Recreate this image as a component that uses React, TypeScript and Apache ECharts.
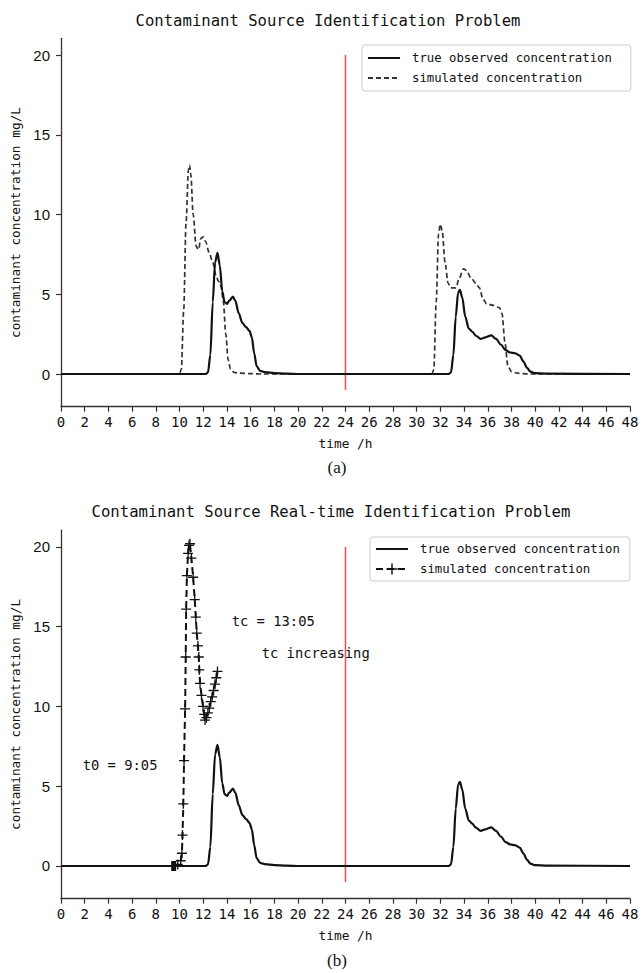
import React, { useEffect, useRef } from "react";
import * as echarts from "echarts";

// ---- data ----
const trueT = [0, 12.2, 12.4, 12.6, 12.8, 13.0, 13.2, 13.4, 13.6, 13.8, 14.0, 14.2, 14.5, 14.7, 15.0, 15.3, 15.6, 15.9, 16.1, 16.3, 16.5, 16.8, 17.2, 18.0, 19.0, 20.0,
  32.7, 32.9, 33.1, 33.3, 33.5, 33.65, 33.85, 34.1, 34.4, 34.7, 35.0, 35.4, 35.8, 36.3, 36.7, 37.1, 37.5, 37.9, 38.3, 38.7, 39.0, 39.3, 39.6, 40.0, 41.0, 48.0];
const trueV = [0, 0, 0.1, 1.2, 4.5, 7.0, 7.6, 6.8, 5.2, 4.5, 4.4, 4.6, 4.85, 4.6, 3.8, 3.2, 2.95, 2.7, 2.3, 1.3, 0.5, 0.2, 0.12, 0.06, 0.02, 0,
  0, 0.1, 1.2, 3.6, 5.1, 5.27, 4.8, 3.6, 2.85, 2.65, 2.4, 2.2, 2.3, 2.42, 2.2, 1.85, 1.5, 1.35, 1.3, 1.15, 0.8, 0.4, 0.15, 0.05, 0.02, 0];

const simAT = [0, 10.0, 10.15, 10.35, 10.55, 10.75, 10.85, 10.95, 11.15, 11.4, 11.6, 11.8, 12.0, 12.2, 12.5, 12.8, 13.1, 13.3, 13.5, 13.7, 13.9, 14.1, 14.3, 14.6, 15.0, 16.0, 17.0,
  31.3, 31.45, 31.65, 31.85, 32.0, 32.15, 32.4, 32.65, 32.9, 33.3, 33.6, 33.95, 34.2, 34.6, 35.0, 35.3, 35.6, 35.9, 36.5, 37.0, 37.2, 37.45, 37.7, 38.0, 38.5, 39.5, 48];
const simAV = [0, 0, 0.3, 4, 9.5, 12.8, 13.1, 12.5, 10, 8.0, 7.8, 8.5, 8.6, 8.3, 7.6, 7.0, 6.1, 5.8, 5.5, 4.5, 2.5, 0.9, 0.3, 0.1, 0.05, 0.02, 0,
  0, 0.3, 4.5, 8.8, 9.4, 9.0, 7.0, 5.7, 5.4, 5.4, 6.0, 6.6, 6.5, 6.0, 5.7, 5.4, 4.7, 4.4, 4.3, 4.15, 3.8, 2.0, 0.5, 0.15, 0.05, 0, 0];

const simBT = [9.36, 9.39, 9.42, 9.45, 9.48, 9.51, 9.54, 9.57, 9.6, 9.63, 9.66, 9.85, 10.1, 10.2, 10.25, 10.32, 10.38, 10.47, 10.52, 10.56, 10.62, 10.72, 10.8, 10.88,
  11.0, 11.15, 11.28, 11.37, 11.45, 11.55, 11.62, 11.67, 11.73, 11.85, 11.98, 12.08, 12.15,
  12.27, 12.39, 12.51, 12.63, 12.75, 12.87, 12.99, 13.1, 13.2];
const simBV = [0, 0, 0, 0, 0, 0, 0, 0, 0, 0, 0, 0.1, 0.33, 0.8, 1.94, 3.9, 6.6, 9.85, 13.1, 16.1, 18.2, 19.6, 20.1, 20.2,
  19.3, 18.1, 16.7, 15.6, 14.6, 13.8, 13.1, 12.3, 11.45, 10.7, 10.0, 9.5, 9.15,
  9.3, 9.6, 9.9, 10.3, 10.6, 11.0, 11.4, 11.8, 12.2];

const redT = [24, 24];
const redV = [-1, 20];
const yTickValues = [0, 5, 10, 15, 20];
const seriesNames = ["true observed concentration", "simulated concentration"];

const MONO = "'DejaVu Sans Mono', 'Liberation Mono', monospace";
const CROSS = "path://M-0.13,-1L0.13,-1L0.13,-0.13L1,-0.13L1,0.13L0.13,0.13L0.13,1L-0.13,1L-0.13,0.13L-1,0.13L-1,-0.13L-0.13,-0.13Z";

const zip = (a: number[], b: number[]) => a.map((t, i) => [t, b[i]]);

function axes(gridTop: number, gridBottom: number) {
  return {
    grid: { left: 61, right: 13, top: gridTop, bottom: gridBottom, outerBoundsMode: "none", containLabel: false },
    xAxis: {
      type: "value", min: 0, max: 48, interval: 2,
      axisLine: { show: true, onZero: false, lineStyle: { color: "#333", width: 1.3 } },
      axisTick: { show: true, length: 5, lineStyle: { color: "#333", width: 1.2 } },
      axisLabel: { fontFamily: MONO, fontSize: 14, color: "#111", margin: 8 },
      splitLine: { show: false },
      name: "time /h", nameLocation: "middle", nameGap: 30,
      nameTextStyle: { fontFamily: MONO, fontSize: 12.8, color: "#111" },
    },
    yAxis: {
      type: "value", min: -2.05, max: 21.05,
      axisLine: { show: true, onZero: false, lineStyle: { color: "#333", width: 1.3 } },
      axisTick: { show: true, length: 5, customValues: yTickValues, lineStyle: { color: "#333", width: 1.2 } },
      axisLabel: { customValues: yTickValues, fontFamily: "'Liberation Sans', Arial, sans-serif", fontSize: 15, color: "#111", margin: 11 },
      splitLine: { show: false },
      name: "contaminant concentration mg/L", nameLocation: "middle", nameGap: 36,
      nameTextStyle: { fontFamily: MONO, fontSize: 12.8, color: "#111" },
    },
  };
}

function redSeries() {
  return { type: "line", name: "marker24", data: zip(redT, redV), symbol: "none", silent: true,
    lineStyle: { color: "#ff4747", width: 1.5 }, z: 1 };
}
function trueSeries() {
  return { type: "line", name: seriesNames[0], data: zip(trueT, trueV), symbol: "none", smooth: 0.3,
    smoothMonotone: "x", lineStyle: { color: "#111", width: 2.2 }, itemStyle: { color: "#111" }, z: 3 };
}

const hidden = { itemStyle: { opacity: 0 } };

function optionA() {
  return {
    animation: false,
    ...axes(38.3, 73.3),
    legend: {
      data: [{ name: seriesNames[0], ...hidden }, { name: seriesNames[1], ...hidden }],
      orient: "vertical", left: 362, top: 45,
      padding: [7, 19, 7, 5], itemGap: 8, itemWidth: 32, itemHeight: 14,
      borderColor: "#cccccc", borderWidth: 1, borderRadius: 3,
      textStyle: { fontFamily: MONO, fontSize: 12.3, color: "#111", padding: [0, 0, 0, 7] },
    },
    series: [
      redSeries(),
      trueSeries(),
      { type: "line", name: seriesNames[1], data: zip(simAT, simAV), symbol: "none", smooth: 0.3, smoothMonotone: "x",
        lineStyle: { color: "#333", width: 1.7, type: [5, 3] }, itemStyle: { color: "#333" }, z: 2 },
    ],
    graphic: [
      { type: "text", x: 328, y: 21, style: { text: "Contaminant Source Identification Problem", fontFamily: MONO, fontSize: 15.6, fill: "#111", align: "center", verticalAlign: "middle" } },
      { type: "text", x: 337, y: 467, style: { text: "(a)", fontFamily: "'Liberation Serif', serif", fontSize: 17, fill: "#111", align: "center", verticalAlign: "middle" } },
    ],
  };
}

function optionB() {
  return {
    animation: false,
    ...axes(50.2, 74.3),
    legend: {
      data: [{ name: seriesNames[0], ...hidden }, { name: seriesNames[1] }],
      orient: "vertical", left: 370, top: 57,
      padding: [6, 10, 6, 5], itemGap: 8, itemWidth: 32, itemHeight: 14,
      borderColor: "#cccccc", borderWidth: 1, borderRadius: 3,
      textStyle: { fontFamily: MONO, fontSize: 12.3, color: "#111", padding: [0, 0, 0, 7] },
    },
    series: [
      redSeries(),
      trueSeries(),
      { type: "line", name: seriesNames[1], data: zip(simBT, simBV), symbol: CROSS, symbolSize: 10, showAllSymbol: true,
        lineStyle: { color: "#111", width: 2, type: [7, 4] }, itemStyle: { color: "#111" }, z: 2 },
    ],
    graphic: [
      { type: "text", x: 331, y: 31.5, style: { text: "Contaminant Source Real-time Identification Problem", fontFamily: MONO, fontSize: 15.6, fill: "#111", align: "center", verticalAlign: "middle" } },
      { type: "text", x: 231.7, y: 140.7, style: { text: "tc = 13:05", fontFamily: MONO, fontSize: 13.8, fill: "#111", verticalAlign: "middle" } },
      { type: "text", x: 261.7, y: 173.3, style: { text: "tc increasing", fontFamily: MONO, fontSize: 13.8, fill: "#111", verticalAlign: "middle" } },
      { type: "text", x: 82.7, y: 285, style: { text: "t0 = 9:05", fontFamily: MONO, fontSize: 13.8, fill: "#111", verticalAlign: "middle" } },
      { type: "text", x: 337, y: 480, style: { text: "(b)", fontFamily: "'Liberation Serif', serif", fontSize: 17, fill: "#111", align: "center", verticalAlign: "middle" } },
    ],
  };
}

function Chart({ top, height, option }: { top: number; height: number; option: any }) {
  const ref = useRef<HTMLDivElement>(null);
  useEffect(() => {
    if (!ref.current) return;
    const chart = echarts.init(ref.current, undefined, { renderer: "svg" });
    chart.setOption(option);
    return () => chart.dispose();
  }, []);
  return <div ref={ref} style={{ position: "absolute", left: 0, top, width: 643, height }} />;
}

export default function App() {
  return (
    <div style={{ position: "absolute", left: 0, top: 0, width: 643, height: 973, background: "#fff" }}>
      <Chart top={0} height={480} option={optionA()} />
      <Chart top={480} height={493} option={optionB()} />
    </div>
  );
}
